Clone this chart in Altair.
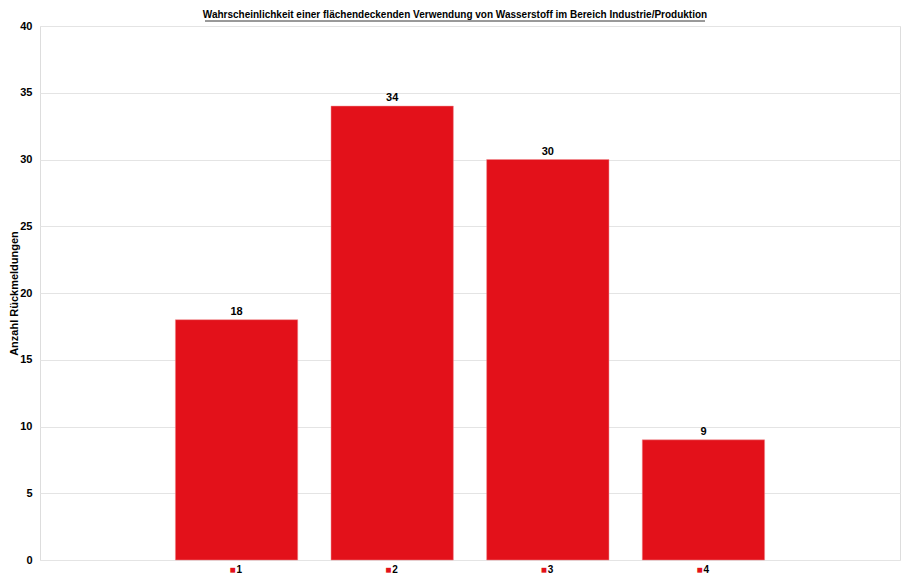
import altair as alt
import pandas as pd

categories = ["1", "2", "3", "4"]
values = [18, 34, 30, 9]
title_text = "Wahrscheinlichkeit einer flächendeckenden Verwendung von Wasserstoff im Bereich Industrie/Produktion"
y_title = "Anzahl Rückmeldungen"

df = pd.DataFrame({"cat": categories, "val": values})

FONT = "Liberation Sans"
RED = "#E3111A"
W, H = 860, 534

xscale = alt.Scale(domain=categories, paddingInner=0.214, paddingOuter=0.87)
X = alt.X("cat:N", scale=xscale, sort=categories)

base = alt.Chart(df)

bars = base.mark_bar(color=RED, stroke="#f08a8e", strokeWidth=0.5).encode(
    x=alt.X("cat:N", scale=xscale, sort=categories,
            axis=alt.Axis(title=None, labels=False, domain=False, ticks=False)),
    y=alt.Y("val:Q", scale=alt.Scale(domain=[0, 40]),
            axis=alt.Axis(title=y_title, values=[0, 5, 10, 15, 20, 25, 30, 35, 40],
                          domain=False, ticks=False, gridColor="#e4e4e4",
                          labelFont=FONT, labelFontSize=11, labelFontWeight="bold",
                          labelColor="#000", labelPadding=8,
                          titleFont=FONT, titleFontSize=11, titleFontWeight="bold",
                          titleColor="#000", titleX=-21, titleY=H / 2,
                          titleAngle=270, titleAlign="center", titleBaseline="bottom")),
)

labels = base.mark_text(font=FONT, fontSize=11, fontWeight="bold", color="#000",
                        baseline="bottom", dy=-3).encode(
    x=X, y="val:Q", text="val:Q",
)

cat_labels = base.mark_text(font=FONT, fontSize=10, fontWeight="bold", color="#000",
                            baseline="middle", align="left", dx=0).encode(
    x=X, y=alt.value(H + 10), text="cat:N",
)

markers = base.mark_text(font=FONT, fontSize=10, color=RED,
                         baseline="middle", align="right", dx=-1, text="■").encode(
    x=X, y=alt.value(H + 10),
)

title_df = pd.DataFrame({"t": [title_text]})
title_mark = alt.Chart(title_df).mark_text(
    font=FONT, fontSize=10, fontWeight="bold", color="#000",
    align="center", baseline="middle").encode(
    x=alt.value(415), y=alt.value(-11), text="t:N",
)

underline = alt.Chart(title_df).mark_rule(color="#000", strokeWidth=0.8).encode(
    x=alt.value(165), x2=alt.value(665), y=alt.value(-5)
)

chart = alt.layer(bars, labels, cat_labels, markers, title_mark, underline).properties(
    width=W, height=H,
    padding={"left": 32, "top": 18, "right": 2, "bottom": 22},
    autosize=alt.AutoSizeParams(type="none"),
).configure_view(stroke=None).configure(background="white")

chart.save("out.html", embed_options={"renderer": "svg", "actions": False})
